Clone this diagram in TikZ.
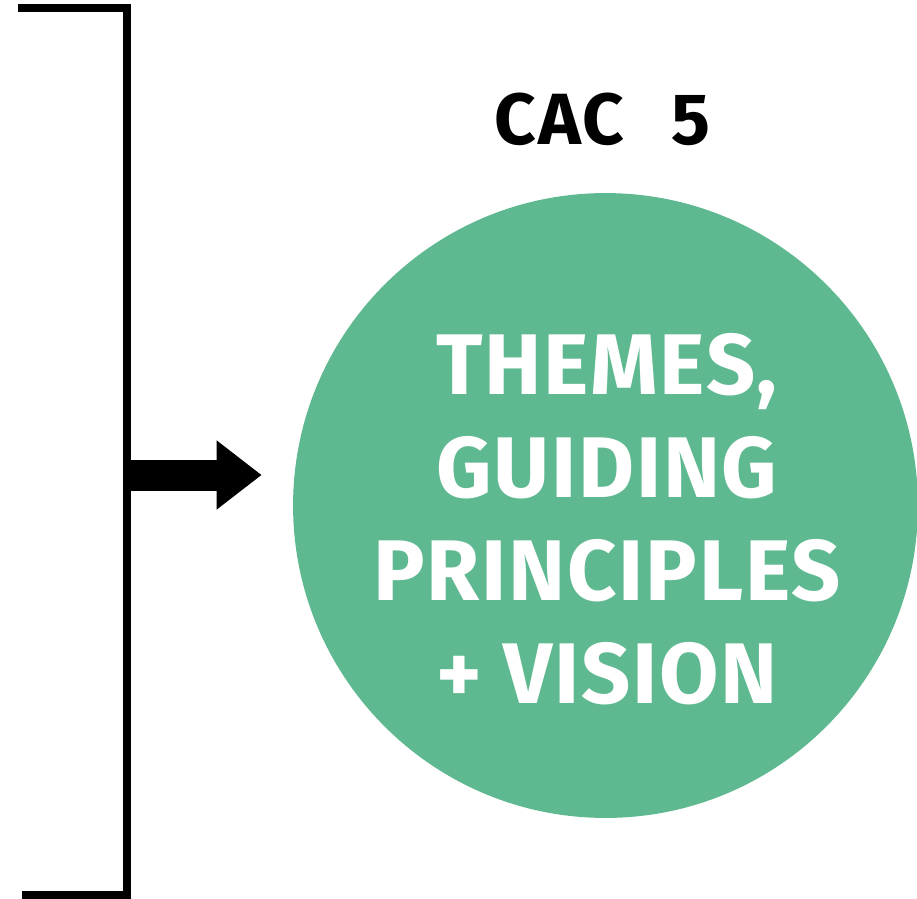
\documentclass[tikz,border=0pt]{standalone}
\usepackage{fontspec}
\setmainfont{Fira Sans}
\usetikzlibrary{calc,arrows.meta}
\definecolor{cacgreen}{RGB}{95,185,144}

\begin{document}
\begin{tikzpicture}[x={(0.02cm,0cm)}, y={(0cm,-0.02cm)}]
%styles
\tikzstyle{bracketLine}=[line width=0.16cm, line join=miter]
\tikzstyle{disc}=[circle, fill=cacgreen, minimum size=12.5cm, inner sep=0pt]
\tikzstyle{textTitle}=[text=black, inner sep=0pt, font=\bfseries\fontsize{41.3}{49}\selectfont\addfontfeature{LetterSpace=3}]
\tikzstyle{textw}=[text=white, inner sep=0pt, align=center, font=\bfseries\fontsize{49}{58.6}\selectfont\addfontfeature{LetterSpace=2}]
\tikzstyle{bigArrow}=[line width=0.62cm, -{Triangle[length=0.9cm, width=1.32cm]}]

\useasboundingbox (0,0) rectangle (917,899);

%bracket
\coordinate (btop) at (18,8);
\coordinate (bbot) at (22,895);
\coordinate (brk) at (127,475);
\draw[bracketLine] (btop) -| (brk) |- (bbot);

%circle
\node[disc] (circ) at (605.5,505.5) {};

%texts
\node[textTitle, anchor=base] (cac) at ($(circ.north)+(-3,-48)$) {CAC\hspace{0.65em}5};
\node[textw, anchor=north] (themes) at ($(circ.center)+(1.5,-172.5)$) {THEMES,\\GUIDING\\PRINCIPLES\\+ VISION};

%arrow
\draw[bigArrow, shorten >=0.62cm] (brk) -- (brk -| circ.west);
\end{tikzpicture}
\end{document}
